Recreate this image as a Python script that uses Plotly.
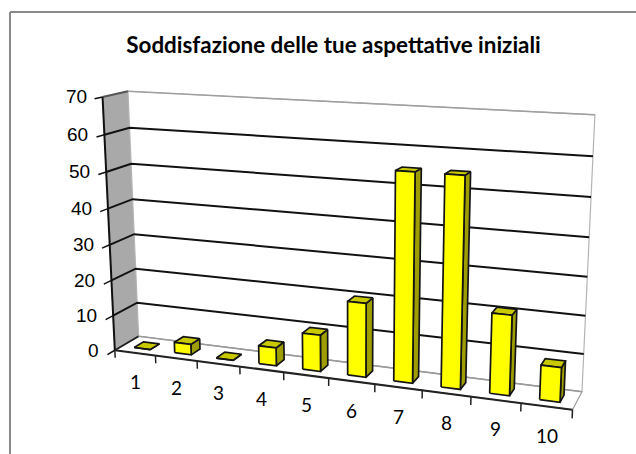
import numpy as np
import plotly.graph_objects as go

# Survey results: satisfaction score (1-10) and number of answers
categories = ["1", "2", "3", "4", "5", "6", "7", "8", "9", "10"]
values = [0, 3, 0, 5, 10, 20, 55, 55, 21, 9]
value_ticks = [0, 10, 20, 30, 40, 50, 60, 70]
title_text = "<b>Soddisfazione delle tue aspettative iniziali</b>"

W, H = 636, 454
Z_MAX = 70
X_LO, X_HI = 0.5, len(categories) + 0.5

# ---- perspective camera for the 3-D box (category, depth, value) -> page px ----
# anchor points of the box corners on the page
anchors = [
    ((X_LO, 0, 0), (114, 350)),
    ((X_LO, 0, Z_MAX), (102, 97)),
    ((X_LO, 1, 0), (138, 337)),
    ((X_LO, 1, Z_MAX), (128, 92)),
    ((X_HI, 0, 0), (572, 411)),
    ((X_HI, 1, 0), (582, 391)),
    ((X_HI, 1, Z_MAX), (595, 115)),
    ((1.5, 0, 0), (157, 355)),
    ((5.5, 0, 0), (329, 378)),
    ((9.5, 0, 0), (521, 403)),
    ((X_HI, 1, 60), (593, 156)),
    ((X_LO, 1, 60), (130, 127)),
]


def _norm(p):
    return (p[0] / 10.0, p[1], p[2] / Z_MAX)


rows = []
for P, (u, v) in anchors:
    X, Y, Z = _norm(P)
    u, v = u / W, v / H
    rows.append([X, Y, Z, 1, 0, 0, 0, 0, -u * X, -u * Y, -u * Z, -u])
    rows.append([0, 0, 0, 0, X, Y, Z, 1, -v * X, -v * Y, -v * Z, -v])
_, _, vt = np.linalg.svd(np.array(rows, dtype=float))
CAM = vt[-1].reshape(3, 4)


def proj(x, y, z):
    X, Y, Z = _norm((x, y, z))
    a, b, c = CAM @ np.array([X, Y, Z, 1.0])
    return a / c * W, b / c * H


def path(points, close=False):
    pts = [proj(*p) for p in points]
    if close:
        pts.append(pts[0])
    return [p[0] for p in pts], [p[1] for p in pts]


def multi(polys, close=True):
    xs, ys = [], []
    for poly in polys:
        px, py = path(poly, close)
        xs += px + [None]
        ys += py + [None]
    return xs, ys


fig = go.Figure()


def add_poly(points, fill, line_color, line_width, close=True):
    px, py = path(points, close)
    fig.add_trace(go.Scatter(
        x=px, y=py, mode="lines", fill="toself" if fill else "none",
        fillcolor=fill, line=dict(color=line_color, width=line_width),
        hoverinfo="skip", showlegend=False))


def add_line(points, color, width):
    add_poly(points, None, color, width, close=False)


# walls and floor
add_poly([(X_LO, 0, 0), (X_LO, 1, 0), (X_LO, 1, Z_MAX), (X_LO, 0, Z_MAX)],
         "#A9A9A9", "#A9A9A9", 1)
add_poly([(X_LO, 1, 0), (X_HI, 1, 0), (X_HI, 1, Z_MAX), (X_LO, 1, Z_MAX)],
         "white", "#B4B4B4", 1.2)
add_poly([(X_LO, 0, 0), (X_HI, 0, 0), (X_HI, 1, 0), (X_LO, 1, 0)],
         "white", "#A0A0A0", 1.2)

# value gridlines across the side wall and the back wall
for z in value_ticks:
    if z == 0:
        add_line([(X_LO, 0, 0), (X_LO, 1, 0)], "#222222", 2)
        add_line([(X_LO, 1, 0), (X_HI, 1, 0)], "#9A9A9A", 1.5)
    elif z == Z_MAX:
        add_line([(X_LO, 0, z), (X_LO, 1, z)], "#555555", 2)
        add_line([(X_LO, 1, z), (X_HI, 1, z)], "#A0A0A0", 1.5)
    else:
        add_line([(X_LO, 0, z), (X_LO, 1, z), (X_HI, 1, z)], "#111111", 2)

# value axis with tick marks
add_line([(X_LO, 0, 0), (X_LO, 0, Z_MAX)], "#111111", 2)
tx, ty = multi([[(X_LO, -0.3, z), (X_LO, 0, z)] for z in value_ticks], close=False)
fig.add_trace(go.Scatter(x=tx, y=ty, mode="lines", line=dict(color="#111111", width=1.5),
                         hoverinfo="skip", showlegend=False))

# category axis along the front edge of the floor
add_line([(X_LO, 0, 0), (X_HI, 0, 0)], "#222222", 2)
cx, cy = multi([[(k + 0.5, 0, 0), (k + 0.5, 0, -2.2)] for k in range(len(categories) + 1)],
               close=False)
fig.add_trace(go.Scatter(x=cx, y=cy, mode="lines", line=dict(color="#222222", width=1.5),
                         hoverinfo="skip", showlegend=False))

# bars: top, right side and front face of each box
BAR_W, D0, D1 = 0.40, 0.30, 0.70
tops, sides, fronts = [], [], []
for i, v in enumerate(values):
    c = i + 1
    x0, x1 = c - BAR_W / 2, c + BAR_W / 2
    tops.append([(x0, D0, v), (x1, D0, v), (x1, D1, v), (x0, D1, v)])
    sides.append([(x1, D0, 0), (x1, D1, 0), (x1, D1, v), (x1, D0, v)])
    fronts.append([(x0, D0, 0), (x1, D0, 0), (x1, D0, v), (x0, D0, v)])

for polys, col in ((sides, "#9E9E00"), (tops, "#C9C900"), (fronts, "#FFFF00")):
    bx, by = multi(polys)
    fig.add_trace(go.Scatter(x=bx, y=by, mode="lines", fill="toself", fillcolor=col,
                             line=dict(color="#141414", width=1.7),
                             hoverinfo="skip", showlegend=False))

# tick labels
annotations = []
for z in value_ticks:
    px, py = proj(X_LO, 0, z)
    annotations.append(dict(x=px, y=py, xref="x", yref="y", text=str(z), showarrow=False,
                            xanchor="right", yanchor="middle", xshift=-14,
                            font=dict(family="Liberation Sans", size=19, color="black")))
for i, lab in enumerate(categories):
    px, py = proj(i + 1, 0, 0)
    annotations.append(dict(x=px, y=py, xref="x", yref="y", text=lab, showarrow=False,
                            xanchor="center", yanchor="middle", yshift=-29,
                            font=dict(family="Lato", size=19, color="black")))

fig.update_layout(
    width=W, height=H,
    margin=dict(l=0, r=0, t=0, b=0),
    paper_bgcolor="white", plot_bgcolor="white",
    showlegend=False,
    title=dict(text=title_text, x=333.5 / W, xanchor="center", y=1 - 45 / H, yanchor="middle",
               font=dict(family="Lato", size=22.4, color="black")),
    xaxis=dict(range=[0, W], visible=False, fixedrange=True),
    yaxis=dict(range=[H, 0], visible=False, fixedrange=True),
    annotations=annotations,
    shapes=[
        dict(type="line", xref="paper", yref="paper",
             x0=10 / W, x1=1.0, y0=1 - 12 / H, y1=1 - 12 / H,
             line=dict(color="#8A8A8A", width=2)),
        dict(type="line", xref="paper", yref="paper",
             x0=10 / W, x1=10 / W, y0=1 - 12 / H, y1=0,
             line=dict(color="#8A8A8A", width=2)),
    ],
)

fig.write_html("out.html", config=dict(displayModeBar=False, staticPlot=True))
